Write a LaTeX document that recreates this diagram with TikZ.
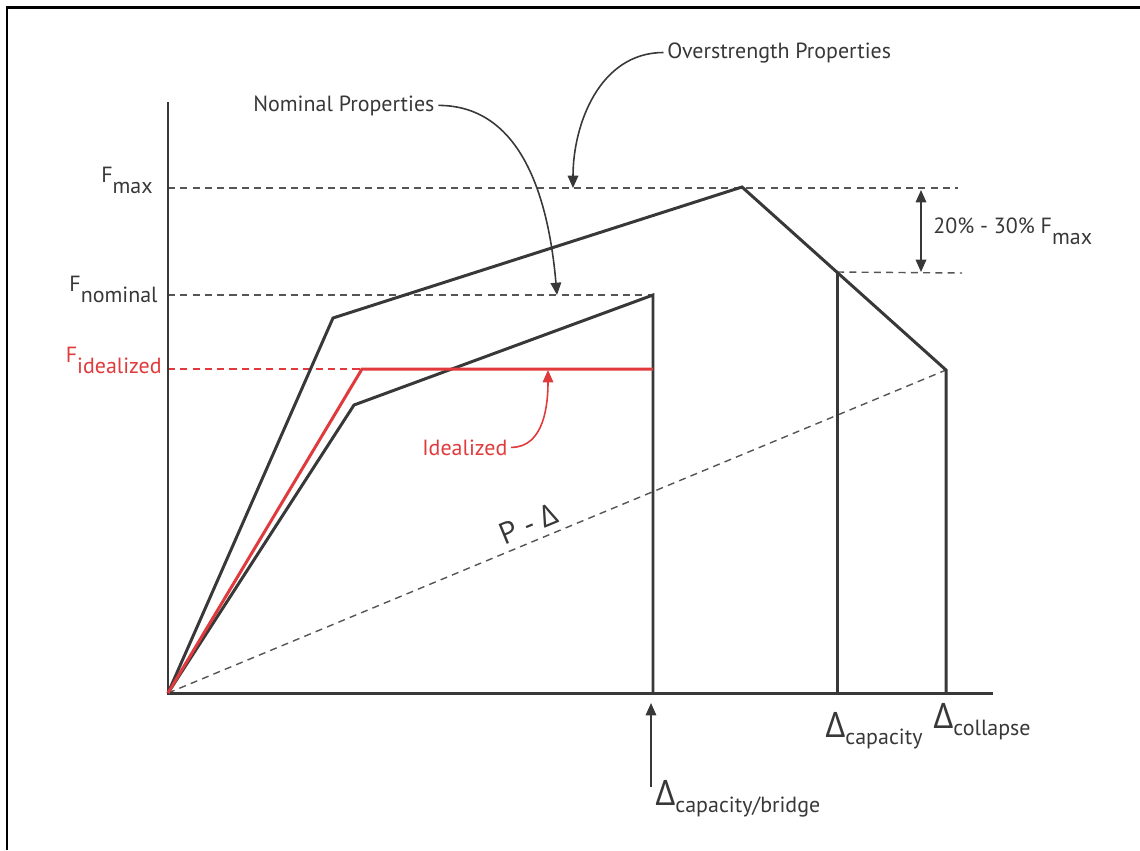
\documentclass[tikz,border=0pt]{standalone}
\usepackage{fontspec}
\setmainfont{PT Sans}
\newfontfamily\grk{Open Sans}
\usetikzlibrary{arrows.meta,positioning,calc}
\definecolor{ink}{HTML}{383838}
\definecolor{idealred}{HTML}{E03A3C}
\definecolor{guidegray}{HTML}{555555}
\newcommand{\lowtxt}[1]{\raisebox{-6.5pt}{#1}}
\newcommand{\deltalbl}[1]{{\grk\fontsize{20}{20}\selectfont Δ}\raisebox{-4.5pt}{#1}}

\begin{document}
\begin{tikzpicture}[x=0.02cm,y=-0.02cm,
  curve/.style={ink,line width=1.7pt,line join=miter},
  axis/.style={ink,line width=1.7pt},
  guide/.style={guidegray,dash pattern=on 4pt off 3pt,line width=0.8pt},
  callout/.style={ink,line width=0.9pt,-{Triangle[length=7pt,width=6pt]}},
  lbl/.style={text=ink,font=\fontsize{12.5}{15}\selectfont,inner sep=0pt}
]
  \useasboundingbox (0,0) rectangle (1140,850);
  \draw[black,line width=1.7pt] (7,850) -- (7,7) -- (1140,7);

  % curve points
  \coordinate (O) at (168,693);
  \coordinate (ytop) at (168,102);
  \coordinate (xend) at (993,693);
  \coordinate (oknee) at (333,318);
  \coordinate (peak) at (742,187);
  \coordinate (collapse) at (946,370);
  \coordinate (captop) at (837,272);
  \coordinate (nknee) at (354,405);
  \coordinate (npeak) at (653,295);
  \coordinate (iknee) at (362,369);
  \coordinate (iend) at (653,369);

  % guides
  \coordinate (fmaxend) at (958,188);
  \coordinate (dropend) at (962,273);
  \draw[guide] (O |- fmaxend) -- (fmaxend);
  \draw[guide] (O |- npeak) -- (npeak);
  \draw[guide,idealred] (O |- iknee) -- (iknee);
  \draw[guide] (captop) -- (dropend);
  \draw[guide] (O) -- (collapse);

  \draw[axis] (ytop) -- (O) -- (xend);
  \draw[curve] (O) -- (oknee) -- (peak) -- (collapse) -- (collapse |- O);
  \draw[curve] (captop) -- (captop |- O);
  \draw[curve] (O) -- (nknee) -- (npeak) -- (npeak |- O);
  \draw[curve,idealred] (O) -- (iknee) -- (iend);

  % axis labels
  \node[lbl,anchor=base east] (fmax) at (153,182) {F\lowtxt{max}};
  \node[lbl,anchor=base east] (fnom) at (158,291) {F\lowtxt{nominal}};
  \node[lbl,anchor=base east,text=idealred] (fideal) at (162,362) {F\lowtxt{idealized}};

  \coordinate (droptop) at (921,190);
  \coordinate (dropbot) at (921,272);
  \draw[callout,{Triangle[length=7pt,width=6pt]}-{Triangle[length=7pt,width=6pt]}] (droptop) -- (dropbot);
  \node[lbl,anchor=base west] (spread) at (933,233) {20\% - 30\% F\lowtxt{max}};

  % callouts
  \node[lbl,anchor=base west] (nomprop) at (253,111) {Nominal Properties};
  \node[lbl,anchor=base west] (overprop) at (667,58) {Overstrength Properties};
  \node[lbl,anchor=base west,text=idealred] (idealtxt) at (422,455) {Idealized};
  \coordinate (nomtip) at (557,295);
  \coordinate (overtip) at (573,188);
  \coordinate (idealtip) at (548,370);
  \draw[callout] ([xshift=2pt]nomprop.east) to[out=0,in=95] (nomtip);
  \draw[callout] ([xshift=-2pt]overprop.west) to[out=180,in=90] (overtip);
  \draw[callout,idealred] ([xshift=2pt]idealtxt.east) to[out=0,in=-90] (idealtip);

  \node[text=ink,font=\grk\fontsize{17}{17}\selectfont,rotate=22.5,inner sep=0pt] (pdelta) at (528,524) {P - Δ};

  % displacement labels
  \coordinate (bridgetip) at (651,703);
  \coordinate (bridgefoot) at (651,787);
  \draw[callout] (bridgefoot) -- (bridgetip);
  \node[lbl,anchor=base west] (dbridge) at (655,805) {\deltalbl{capacity/bridge}};
  \node[lbl,anchor=base west] (dcap) at (825,737) {\deltalbl{capacity}};
  \node[lbl,anchor=base west] (dcoll) at (933,728) {\deltalbl{collapse}};
\end{tikzpicture}
\end{document}
